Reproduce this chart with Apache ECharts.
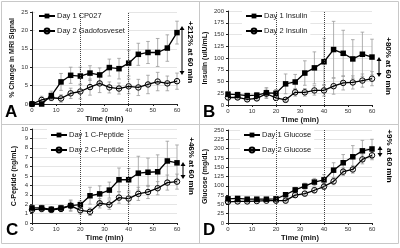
<!DOCTYPE html>
<html>
<head>
<meta charset="utf-8">
<script src="https://cdn.jsdelivr.net/npm/echarts@6/dist/echarts.min.js"></script>
<style>
  html, body { margin: 0; padding: 0; background: #fff; }
  #chart { width: 400px; height: 248px; }
</style>
</head>
<body>
<div id="chart"></div>
<script>
const time = [0, 4, 8, 12, 16, 20, 24, 28, 32, 36, 40, 44, 48, 52, 56, 60];

// A - MRI signal
const mriDay1 = [0, 0, 2.3, 6, 7.8, 7.6, 8.4, 7.9, 9.9, 9.6, 11.1, 13.5, 14, 14, 15.2, 19.4];
const mriDay1Err = [0, 0, 1.2, 2.3, 2.2, 2.4, 2, 1.9, 2.3, 2.8, 3.5, 3, 3, 3.8, 3.6, 3.1];
const mriDay2 = [0, 1.1, 1.7, 1.5, 2.9, 3.4, 4.6, 5.6, 4.5, 4.2, 4.8, 4.5, 5.3, 6.1, 5.6, 6.2];
const mriDay2Err = [0, 1, 0.8, 1, 1.4, 2, 2.2, 2.5, 1.5, 1.5, 2, 2.2, 2.5, 2.5, 2, 2.2];

// B - insulin
const insDay1 = [23, 22, 20, 21, 26, 25, 45, 49, 68, 79, 92, 118, 110, 98, 108, 102];
const insDay1Err = [6, 5, 5, 5, 11, 8, 21, 16, 26, 34, 50, 60, 49, 41, 47, 38];
const insDay2 = [16, 16, 12, 14, 24, 15, 11, 27, 27, 31, 31, 40, 47, 48, 52, 56];
const insDay2Err = [4, 4, 4, 4, 10, 5, 4, 8, 8, 10, 12, 17, 15, 14, 14, 15];

// C - C-peptide
const cpepDay1 = [1.6, 1.6, 1.45, 1.6, 1.85, 1.95, 2.9, 3.1, 3.5, 4.6, 4.6, 5.3, 5.4, 5.45, 6.6, 6.4];
const cpepDay1Err = [0.3, 0.3, 0.3, 0.3, 0.6, 0.4, 0.9, 0.85, 0.85, 1.25, 1.2, 1.8, 1.5, 1.8, 2.1, 1.9];
const cpepDay2 = [1.4, 1.5, 1.4, 1.5, 1.85, 1.35, 1.2, 2.1, 1.95, 2.7, 2.6, 3.1, 3.3, 3.7, 4.3, 4.4];
const cpepDay2Err = [0.3, 0.3, 0.3, 0.3, 0.5, 0.4, 0.4, 0.5, 0.5, 0.6, 0.6, 0.7, 0.7, 0.7, 0.8, 0.8];

// D - glucose
const gluDay1 = [65, 66, 64, 64, 64, 65, 76, 89, 99, 110, 116, 142, 162, 178, 194, 199];
const gluDay1Err = [4, 4, 3, 3, 3, 4, 5, 7, 8, 10, 14, 20, 22, 30, 28, 26];
const gluDay2 = [57, 58, 58, 59, 60, 60, 60, 75, 79, 88, 98, 112, 138, 144, 171, 182];
const gluDay2Err = [4, 4, 3, 3, 3, 3, 4, 6, 6, 7, 8, 9, 10, 10, 12, 12];

const font = 'Liberation Sans';

const grids = [
  {left: 32, right: 223, top: 12, bottom: 144},
  {left: 228, right: 28, top: 11, bottom: 143},
  {left: 32, right: 223, top: 129, bottom: 25},
  {left: 228, right: 28, top: 130, bottom: 25}
];

const yInfo = [
  {name: '% Change in MRI Signal', max: 25, interval: 5, gap: 16},
  {name: 'Insulin (uIU/mL)', max: 200, interval: 25, gap: 19},
  {name: 'C-Peptide (ng/mL)', max: 10, interval: 1, gap: 14},
  {name: 'Glucose (mg/dL)', max: 250, interval: 25, gap: 19}
];

const panels = [
  {names: ['Day 1 CP027', 'Day 2 Gadofosveset'], d1: mriDay1, e1: mriDay1Err, d2: mriDay2, e2: mriDay2Err},
  {names: ['Day 1 Insulin', 'Day 2 Insulin'], d1: insDay1, e1: insDay1Err, d2: insDay2, e2: insDay2Err},
  {names: ['Day 1 C-Peptide', 'Day 2 C-Peptide'], d1: cpepDay1, e1: cpepDay1Err, d2: cpepDay2, e2: cpepDay2Err},
  {names: ['Day 1 Glucose', 'Day 2 Glucose'], d1: gluDay1, e1: gluDay1Err, d2: gluDay2, e2: gluDay2Err}
];

const legendPos = [
  {left: 35, top: 10},
  {left: 242, top: 10},
  {left: 47, top: 129},
  {left: 240, top: 129}
];

function errorBar(params, api) {
  const x = api.value(0);
  const lo = api.coord([x, api.value(1)]);
  const hi = api.coord([x, api.value(2)]);
  const w = 1.8;
  const style = {stroke: '#9a9a9a', lineWidth: 0.8};
  return {
    type: 'group',
    children: [
      {type: 'line', shape: {x1: lo[0], y1: lo[1], x2: hi[0], y2: hi[1]}, style: style},
      {type: 'line', shape: {x1: hi[0] - w, y1: hi[1], x2: hi[0] + w, y2: hi[1]}, style: style},
      {type: 'line', shape: {x1: lo[0] - w, y1: lo[1], x2: lo[0] + w, y2: lo[1]}, style: style}
    ]
  };
}

const series = [];
panels.forEach((p, i) => {
  [[p.d1, p.e1], [p.d2, p.e2]].forEach(([d, e]) => {
    series.push({
      type: 'custom',
      xAxisIndex: i,
      yAxisIndex: i,
      renderItem: errorBar,
      encode: {x: 0, y: [1, 2]},
      silent: true,
      z: 1,
      data: time.map((t, k) => [t, d[k] - e[k], d[k] + e[k]])
    });
  });
  series.push({
    name: p.names[0],
    type: 'line',
    xAxisIndex: i,
    yAxisIndex: i,
    symbol: 'rect',
    symbolSize: 5.5,
    z: 3,
    lineStyle: {color: '#000', width: 1.3},
    itemStyle: {color: '#000'},
    data: time.map((t, k) => [t, p.d1[k]]),
    markLine: {
      silent: true,
      symbol: 'none',
      label: {show: false},
      lineStyle: {color: '#444', type: 'dotted', width: 1},
      data: [{xAxis: 20}, {xAxis: 40}]
    }
  });
  series.push({
    name: p.names[1],
    type: 'line',
    xAxisIndex: i,
    yAxisIndex: i,
    symbol: 'circle',
    symbolSize: 5.5,
    z: 3,
    lineStyle: {color: '#000', width: 1.3},
    itemStyle: {color: 'rgba(255,255,255,0)', borderColor: '#000', borderWidth: 1},
    data: time.map((t, k) => [t, p.d2[k]])
  });
});

function arrow(x, y1, y2) {
  const h = 4, w = 2.5;
  return {
    type: 'group',
    children: [
      {type: 'line', shape: {x1: x, y1: y1 + 2, x2: x, y2: y2 - 2}, style: {stroke: '#000', lineWidth: 1}},
      {type: 'polygon', shape: {points: [[x, y1], [x - w, y1 + h], [x + w, y1 + h]]}, style: {fill: '#000'}},
      {type: 'polygon', shape: {points: [[x, y2], [x - w, y2 - h], [x + w, y2 - h]]}, style: {fill: '#000'}}
    ]
  };
}

function sideText(x, y, text) {
  return {
    type: 'text', x: x, y: y, rotation: -Math.PI / 2,
    style: {text: text, fill: '#000', font: 'bold 8px ' + font, align: 'center', verticalAlign: 'middle'}
  };
}

function letter(x, y, text) {
  return {
    type: 'text', x: x, y: y,
    style: {text: text, fill: '#000', font: 'bold 17px ' + font, align: 'left', verticalAlign: 'middle'}
  };
}

const frame = {stroke: '#c8c8c8', lineWidth: 1, fill: null};

const option = {
  animation: false,
  textStyle: {fontFamily: font},
  grid: grids,
  legend: panels.map((p, i) => ({
    data: p.names,
    orient: 'vertical',
    left: legendPos[i].left,
    top: legendPos[i].top,
    itemGap: 7,
    itemWidth: 16,
    itemHeight: 6,
    padding: [2, 3, 2, 3],
    backgroundColor: '#fff',
    textStyle: {fontSize: 7.5, color: '#222', fontFamily: font, padding: [0, 0, 0, -3]}
  })),
  xAxis: grids.map((g, i) => ({
    gridIndex: i,
    type: 'value',
    min: 0,
    max: 60,
    interval: 10,
    name: 'Time (min)',
    nameLocation: 'middle',
    nameGap: 11,
    nameTextStyle: {fontSize: 7.5, fontWeight: 'bold', color: '#111', fontFamily: font},
    axisLine: {lineStyle: {color: '#222', width: 1}},
    axisTick: {show: true, length: 2, lineStyle: {color: '#222'}},
    axisLabel: {fontSize: 6, color: '#333', margin: 3, fontFamily: font},
    splitLine: {show: false}
  })),
  yAxis: yInfo.map((y, i) => ({
    gridIndex: i,
    type: 'value',
    min: 0,
    max: y.max,
    interval: y.interval,
    name: y.name,
    nameLocation: 'middle',
    nameGap: y.gap,
    nameTextStyle: {fontSize: 7, fontWeight: 'bold', color: '#111', fontFamily: font},
    axisLine: {show: true, lineStyle: {color: '#222', width: 1}},
    axisTick: {show: true, length: 2, lineStyle: {color: '#222'}},
    axisLabel: {fontSize: 6, color: '#333', margin: 4, fontFamily: font},
    splitLine: {show: true, lineStyle: {color: '#dedede', width: 0.8}}
  })),
  series: series,
  graphic: [
    {type: 'rect', shape: {x: 1.5, y: 1.5, width: 397, height: 242}, style: frame, silent: true},
    {type: 'line', shape: {x1: 199.5, y1: 1.5, x2: 199.5, y2: 243.5}, style: {stroke: '#c8c8c8', lineWidth: 1}},
    {type: 'line', shape: {x1: 1.5, y1: 124.5, x2: 398.5, y2: 124.5}, style: {stroke: '#c8c8c8', lineWidth: 1}},
    letter(5, 112, 'A'),
    letter(203, 112, 'B'),
    letter(6, 230, 'C'),
    letter(203, 230, 'D'),
    arrow(182, 26, 75),
    sideText(190, 52, '+212% at 60 min'),
    arrow(379, 57, 77),
    sideText(388, 66, '+80% at 60 min'),
    arrow(183, 162, 179),
    sideText(191, 166, '+46% at 60 min'),
    arrow(380, 146, 157),
    sideText(389, 156, '+9% at 60 min')
  ]
};

const chart = echarts.init(document.getElementById('chart'), null, {renderer: 'canvas'});
chart.setOption(option);
</script>
</body>
</html>
